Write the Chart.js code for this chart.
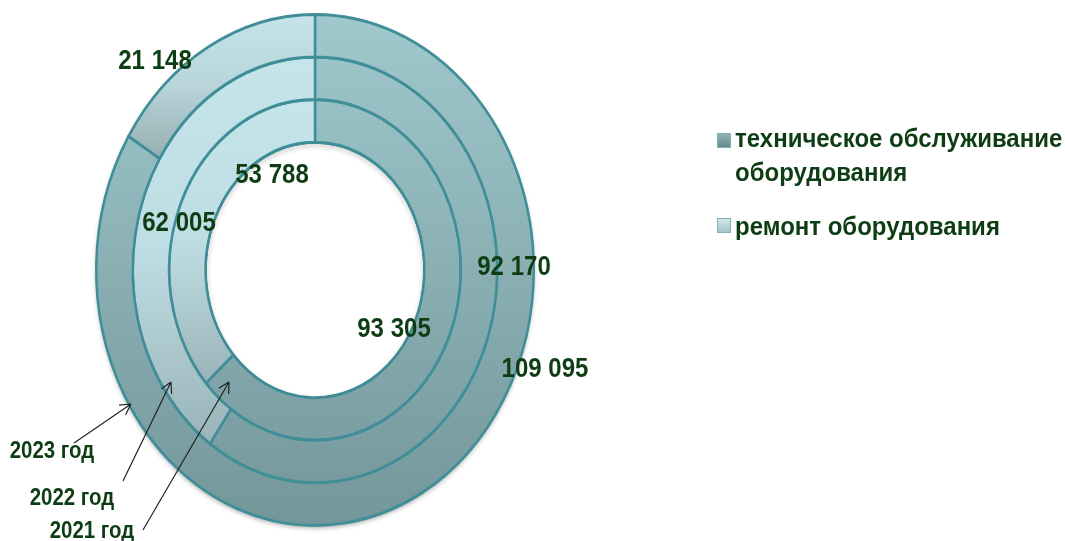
<!DOCTYPE html>
<html lang="ru">
<head>
<meta charset="utf-8">
<title>Затраты на оборудование</title>
<script src="https://cdn.jsdelivr.net/npm/chart.js@4"></script>
<style>
  html, body { margin: 0; padding: 0; background: #fff; overflow: hidden; }
  #wrap { position: relative; width: 1065px; height: 541px; }
  canvas { position: absolute; left: 0; top: 0; }
  .txt {
    position: absolute; white-space: nowrap; color: #0e3d14;
    font-family: "Liberation Sans", sans-serif;
    font-weight: bold; line-height: 1; transform: translate(-50%, -50%) scaleX(0.89);
  }
  .val { font-size: 27px; }
  .yr { font-size: 23px; }
  .leg {
    position: absolute; color: #0e3d14; font-family: "Liberation Sans", sans-serif;
    font-weight: bold; font-size: 25px; line-height: 34px; white-space: nowrap;
    transform-origin: left top; transform: scaleX(0.96);
  }
  .sw { position: absolute; width: 14px; height: 15px; border: 1px solid #7fb3ba; box-sizing: border-box; }
</style>
</head>
<body>
<div id="wrap">
  <canvas id="chart" width="1065" height="541"></canvas>
</div>
<script>
// values, outer ring first (chart.js puts dataset 0 outside)
const years = ['2023 год', '2022 год', '2021 год'];
const categories = ['ремонт оборудования', 'техническое обслуживание оборудования'];
const repair = [21148, 62005, 53788];
const maintenance = [109095, 92170, 93305];

// layout of the picture
const cx = 315, cy = 270.5, stretchY = 1.168;
const lineColor = '#3f8e98';
const maintStops = ['#a0c9cd', '#739699'];
// top and bottom edge (page y) of each repair slice, gradient runs over the slice
const repairTop = [13, 57, 100];
const repairBottom = [158, 442, 382];
const repairStops = [
  ['#c4e5ea', '#b9d5d9', '#95aeb2'],
  ['#c4e5ea', '#bedde2', '#9ab4b9'],
  ['#c4e5ea', '#bedde2', '#9ab4b9']
];

const valuePos = [
  { ring: 2, s: 1, x: 272, y: 174 }, { ring: 1, s: 1, x: 179, y: 222 }, { ring: 0, s: 1, x: 155, y: 60 },
  { ring: 2, s: 0, x: 394, y: 328 }, { ring: 1, s: 0, x: 514, y: 266 }, { ring: 0, s: 0, x: 545, y: 368 }
];
const yearPos = [{ x: 52, y: 450 }, { x: 72, y: 497 }, { x: 92, y: 530 }];
const arrows = [
  { from: [74, 443], to: [131, 404] },
  { from: [123, 481], to: [171, 382] },
  { from: [143, 530], to: [229, 382] }
];

const toChartY = y => cy + (y - cy) / stretchY;
const fmt = v => String(v).replace(/\B(?=(\d{3})+$)/g, ' ');

const canvas = document.getElementById('chart');
const g = canvas.getContext('2d');

const vGrad = (top, bottom, stops) => {
  const gr = g.createLinearGradient(0, toChartY(top), 0, toChartY(bottom));
  stops.forEach((c, i) => gr.addColorStop(i / (stops.length - 1), c));
  return gr;
};

const softShadow = c => {
  c.shadowColor = 'rgba(0,0,0,0.35)';
  c.shadowBlur = 5;
  c.shadowOffsetY = 2;
};

// the donut in the picture is an ellipse, so stretch the arcs while they draw
const stretchPlugin = {
  id: 'stretch',
  beforeDatasetsDraw(chart) {
    const c = chart.ctx;
    const r = chart.getDatasetMeta(0).data[0].outerRadius;
    // soft shadow under the whole donut
    c.save();
    softShadow(c);
    c.fillStyle = '#fff';
    c.beginPath();
    c.ellipse(cx, cy, r, r * stretchY, 0, 0, Math.PI * 2);
    c.fill();
    c.restore();

    c.save();
    c.translate(cx, cy);
    c.scale(1, stretchY);
    c.translate(-cx, -cy);
  },
  afterDatasetsDraw(chart) {
    const c = chart.ctx;
    c.restore();
    // shadow falling into the hole, clipped so the rings stay clean
    const r = chart.getDatasetMeta(2).data[0].innerRadius;
    c.save();
    c.beginPath();
    c.ellipse(cx, cy, r, r * stretchY, 0, 0, Math.PI * 2);
    c.clip();
    softShadow(c);
    c.strokeStyle = lineColor;
    c.lineWidth = 2;
    c.beginPath();
    c.ellipse(cx, cy, r, r * stretchY, 0, 0, Math.PI * 2);
    c.stroke();
    c.restore();
  }
};

const arrowPlugin = {
  id: 'arrows',
  afterDraw(chart) {
    const c = chart.ctx;
    c.save();
    c.strokeStyle = '#222';
    c.lineWidth = 1.2;
    arrows.forEach(a => {
      const ang = Math.atan2(a.to[1] - a.from[1], a.to[0] - a.from[0]);
      c.beginPath();
      c.moveTo(a.from[0], a.from[1]);
      c.lineTo(a.to[0], a.to[1]);
      [-0.5, 0.5].forEach(d => {
        c.moveTo(a.to[0], a.to[1]);
        c.lineTo(a.to[0] - 12 * Math.cos(ang + d), a.to[1] - 12 * Math.sin(ang + d));
      });
      c.stroke();
    });
    c.restore();
  }
};

new Chart(canvas, {
  type: 'doughnut',
  data: {
    labels: categories.slice().reverse(),
    datasets: years.map((y, i) => ({
      label: y,
      data: [maintenance[i], repair[i]],
      backgroundColor: [
        vGrad(13, 527, maintStops),
        vGrad(repairTop[i], repairBottom[i], repairStops[i])
      ],
      borderColor: lineColor,
      borderWidth: 2.5,
      borderAlign: 'center',
      borderJoinStyle: 'round'
    }))
  },
  options: {
    responsive: false,
    animation: false,
    cutout: '50%',
    layout: { padding: { left: 95, right: 530, top: 50, bottom: 51 } },
    plugins: { legend: { display: false }, tooltip: { enabled: false } }
  },
  plugins: [stretchPlugin, arrowPlugin]
});

// real text on top of the chart
const wrap = document.getElementById('wrap');
const addText = (cls, text, x, y) => {
  const d = document.createElement('div');
  d.className = cls;
  d.textContent = text;
  d.style.left = x + 'px';
  d.style.top = y + 'px';
  wrap.appendChild(d);
  return d;
};
valuePos.forEach(p => addText('txt val', fmt((p.s ? repair : maintenance)[p.ring]), p.x, p.y));
years.forEach((y, i) => addText('txt yr', y, yearPos[i].x, yearPos[i].y));

const legend = addText('leg', '', 735, 121);
legend.innerHTML = 'техническое обслуживание<br>оборудования';
addText('leg', categories[0], 735, 209);
[[717, 133, '#8fb3b6', '#648a8f'], [717, 218, '#cfe7ea', '#a5c5c9']].forEach(s => {
  const d = document.createElement('div');
  d.className = 'sw';
  d.style.left = s[0] + 'px';
  d.style.top = s[1] + 'px';
  d.style.background = `linear-gradient(${s[2]}, ${s[3]})`;
  wrap.appendChild(d);
});
</script>
</body>
</html>
